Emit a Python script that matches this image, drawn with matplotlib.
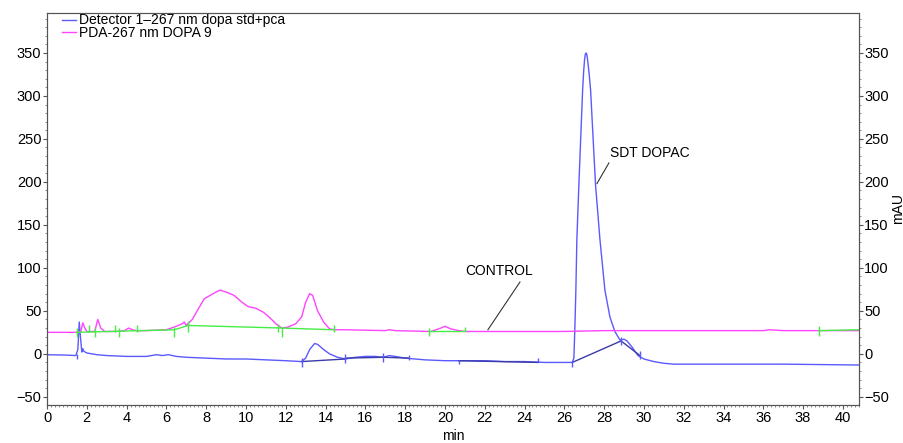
import matplotlib
matplotlib.use("Agg")
import matplotlib.pyplot as plt
from matplotlib.ticker import MultipleLocator

plt.rcParams['font.family'] = ['Liberation Sans', 'DejaVu Sans']
plt.rcParams['font.size'] = 10

# Detector 1 - 267 nm dopa std+pca
det_t = [0.0, 1.0, 1.45, 1.55, 1.62, 1.68, 1.75, 1.8, 1.85, 2.0, 2.5, 3.0, 4.0, 5.0,
         5.5, 5.8, 6.1, 6.5, 7.0, 8.0, 9.0, 10.0, 11.0, 12.0, 12.8, 13.0, 13.2, 13.45,
         13.6, 13.9, 14.2, 14.6, 15.0, 15.5, 16.0, 16.5, 16.9, 17.2, 17.5, 18.0, 19.0,
         20.0, 21.0, 22.0, 23.0, 24.0, 25.0, 26.0, 26.4, 26.48, 26.53, 26.58, 26.63,
         26.73, 26.82, 26.92, 26.97, 27.02, 27.06, 27.1, 27.14, 27.19, 27.25, 27.32,
         27.45, 27.57, 27.79, 28.04, 28.29, 28.54, 28.8, 29.0, 29.15, 29.4, 29.7, 30.0,
         30.5, 31.0, 31.5, 35.0, 37.0, 40.8]
det_v = [-1, -1.5, -2, 5, 37, 20, 2, 6, 3, 1, -1, -2, -3, -3,
         -1, -2, -1, -3, -4, -5, -6, -6, -7, -8, -9, -5, 5, 12,
         11, 5, 0, -4, -6, -4, -3, -3, -4, -2, -3, -5, -7,
         -8, -8, -8, -9, -9, -10, -10, -10, -5, 30, 74, 133,
         196, 249, 307, 328, 343, 349, 350, 347, 338, 325, 307,
         249, 196, 133, 74, 43, 26, 16, 17, 15, 8, -2, -6,
         -9, -11, -12, -12, -12, -13]

# PDA - 267 nm DOPA 9
pda_t = [0.0, 1.5, 1.7, 1.8, 1.9, 2.0, 2.4, 2.55, 2.7, 2.9, 3.5, 3.9, 4.1, 4.3, 4.5,
         5.0, 6.0, 6.5, 6.8, 6.9, 7.0, 7.3, 7.6, 7.9, 8.2, 8.5, 8.7, 9.0, 9.4, 9.8,
         10.1, 10.5, 10.9, 11.2, 11.5, 11.8, 12.1, 12.5, 12.8, 13.0, 13.2, 13.35, 13.6,
         13.9, 14.2, 14.5, 15.0, 17.0, 17.2, 17.5, 19.3, 19.8, 20.0, 20.3, 20.7, 21.0,
         26.0, 28.0, 30.0, 36.0, 36.3, 37.0, 40.8]
pda_v = [25, 25, 26, 36, 30, 26, 26, 40, 30, 26, 26, 27, 30, 28, 27,
         27, 28, 32, 35, 37, 33, 40, 52, 64, 68, 72, 74, 72, 68, 60,
         55, 53, 48, 42, 35, 30, 31, 35, 43, 60, 70, 68, 50,
         37, 29, 28, 28, 27, 28, 27, 26, 30, 32, 29, 27, 26,
         26, 27, 27, 27, 28, 27, 27]

# integration baselines (green on PDA, dark blue on detector)
green_segs = [([1.5, 6.4, 7.1, 11.8, 14.4], [25, 28, 33, 30, 28]),
              ([19.2, 21.0], [26, 26]),
              ([38.8, 40.8], [27, 28])]
green_tick_t = [1.5, 2.1, 2.4, 3.4, 3.6, 4.5, 6.4, 7.1, 11.6, 11.8, 14.4, 19.2, 21.0, 38.8]
green_tick_lo = [20, 25, 20, 25, 20, 25, 20, 25, 25, 20, 25, 21, 26, 21]
green_tick_hi = [30, 33, 30, 33, 30, 34, 31, 38, 35, 30, 34, 30, 31, 32]

blue_segs = [([12.8, 15.0], [-9, -6]),
             ([15.0, 16.9], [-5, -4]),
             ([16.9, 18.2], [-4, -5]),
             ([20.7, 24.7], [-8, -10]),
             ([26.4, 28.85, 29.8], [-10, 15, -2])]
blue_tick_t = [1.5, 12.8, 15.0, 16.9, 18.2, 20.7, 24.7, 26.4, 28.85, 29.8]
blue_tick_lo = [-6, -15, -11, -9, -7, -12, -10, -15, 10, -6]
blue_tick_hi = [0, -5, 0, 1, -1, -7, -5, -8, 20, 3]

fig = plt.figure(figsize=(9.04, 4.43), dpi=100)
ax = fig.add_axes([0.052, 0.0858, 0.898, 0.885])

ax.plot(det_t, det_v, color='#5a5aff', lw=1.0, label='Detector 1\u2013267 nm dopa std+pca')
ax.plot(pda_t, pda_v, color='#ff44ff', lw=1.0, label='PDA-267 nm DOPA 9')
for t, v in green_segs:
    ax.plot(t, v, color='#44ee44', lw=1.0)
ax.vlines(green_tick_t, green_tick_lo, green_tick_hi, color='#44ee44', lw=1.0)
for t, v in blue_segs:
    ax.plot(t, v, color='#3a3aa8', lw=1.0)
ax.vlines(blue_tick_t, blue_tick_lo, blue_tick_hi, color='#5a5aff', lw=1.0)

# peak labels
ax.plot([23.77, 22.16], [83.5, 28], color='#333333', lw=0.8)
ax.text(21.0, 96, 'CONTROL', fontsize=10, va='center')
ax.plot([28.24, 27.64], [222, 198], color='#333333', lw=0.8)
ax.text(28.3, 234, 'SDT DOPAC', fontsize=10, va='center')

ax.set_xlim(0, 40.8)
ax.set_ylim(-59.5, 396.5)
ax.xaxis.set_major_locator(MultipleLocator(2))
ax.xaxis.set_minor_locator(MultipleLocator(0.2))
ax.yaxis.set_major_locator(MultipleLocator(50))
ax.yaxis.set_minor_locator(MultipleLocator(10))
ax.set_xticks(range(0, 41, 2))
ax.set_xticklabels([str(i) for i in range(0, 41, 2)])
ax.set_xlabel('min', labelpad=3)

ax2 = ax.twinx()
ax2.set_ylim(ax.get_ylim())
ax2.yaxis.set_major_locator(MultipleLocator(50))
ax2.yaxis.set_minor_locator(MultipleLocator(10))
ax2.set_ylabel('mAU', labelpad=1)

for a in (ax, ax2):
    for s in a.spines.values():
        s.set_color('#555555')
        s.set_linewidth(0.8)
    a.tick_params(which='major', length=3, width=0.8, color='#555555', pad=1, labelsize=10.5)
    a.tick_params(which='minor', length=1.5, width=0.6, color='#777777')

ax.legend(loc='upper left', bbox_to_anchor=(0.008, 1.02), frameon=False, handlelength=1.0,
          handletextpad=0.2, labelspacing=-0.1, borderpad=0.1, fontsize=10)

fig.savefig('out.png', dpi=100)
